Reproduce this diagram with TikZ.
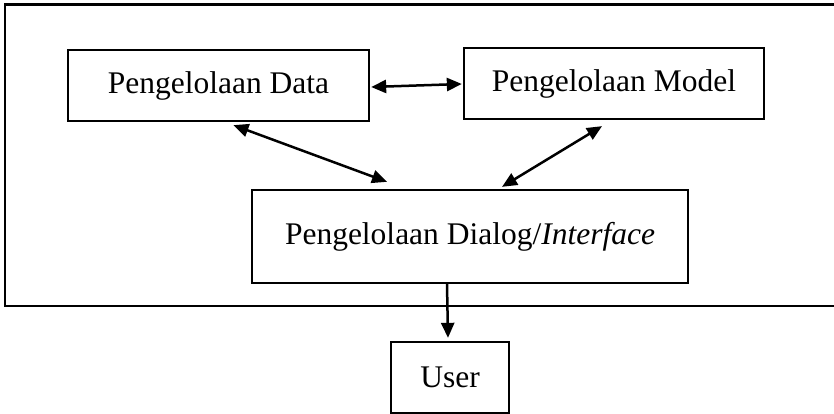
\documentclass[tikz,border=0pt]{standalone}
\usepackage{fontspec}
\setmainfont{Liberation Serif}
\usetikzlibrary{arrows.meta}
\begin{document}
\begin{tikzpicture}[x=1pt,y=-1pt,
  box/.style={draw,line width=2.3pt,inner sep=0pt,font=\fontsize{31.5}{36}\selectfont},
  tip/.tip={Triangle[length=15pt,width=13pt]},
  conn/.style={line width=2.5pt,tip-tip},
  oneway/.style={line width=2.5pt,-tip}]
\clip (0,0) rectangle (834,414);
\fill[white] (0,0) rectangle (834,414);
\draw[line width=2.3pt] (5,4.5) rectangle (860,305.7);
\node[box,minimum width=301pt,minimum height=71pt] (data) at (218.5,85.5) {Pengelolaan Data};
\node[box,minimum width=300pt,minimum height=71pt] (model) at (614,83.5) {Pengelolaan Model};
\node[box,minimum width=436pt,minimum height=93pt] (dialog) at (470,236.5) {Pengelolaan Dialog/\textit{Interface}};
\node[box,minimum width=118pt,minimum height=71pt] (user) at (450,377.5) {User};
\draw[conn] ([xshift=1pt,yshift=-1.5pt]data.east) -- ([xshift=-1pt,yshift=-0.5pt]model.west);
\draw[conn] ([xshift=15pt,yshift=-3pt]data.south) -- ([xshift=-83pt,yshift=7pt]dialog.north);
\draw[conn] ([xshift=-12pt,yshift=-6pt]model.south) -- ([xshift=32pt,yshift=2pt]dialog.north);
\draw[oneway] ([xshift=-23pt]dialog.south) -- ([xshift=-2pt,yshift=3pt]user.north);
\end{tikzpicture}
\end{document}
